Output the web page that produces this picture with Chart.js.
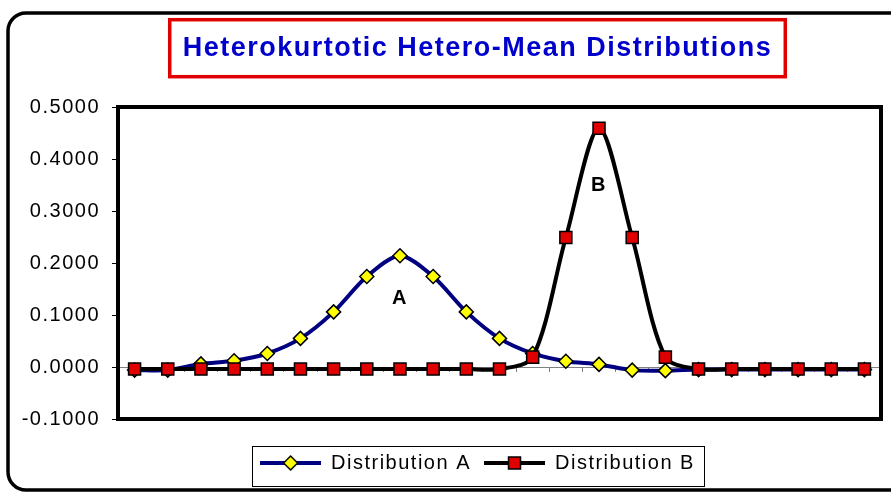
<!DOCTYPE html>
<html>
<head>
<meta charset="utf-8">
<script src="https://cdn.jsdelivr.net/npm/chart.js@4.4.1/dist/chart.umd.min.js"></script>
<style>
    html, body { margin: 0; padding: 0; background: #fff; overflow: hidden; }
    canvas { display: block; }
</style>
</head>
<body>
<canvas id="grafico" width="891" height="495"></canvas>
<script>
// Datos
const categorias = ["1", "2", "3", "4", "5", "6", "7", "8", "9", "10", "11", "12",
    "13", "14", "15", "16", "17", "18", "19", "20", "21", "22", "23"];
const distribucionA = [-0.006, -0.006, 0.006, 0.012, 0.026, 0.055, 0.106, 0.174, 0.214, 0.174, 0.106, 0.055,
    0.026, 0.011, 0.005, -0.006, -0.007, -0.005, -0.005, -0.005, -0.005, -0.005, -0.005];
const distribucionB = [-0.004, -0.004, -0.004, -0.004, -0.004, -0.004, -0.004, -0.004, -0.004, -0.004, -0.004, -0.004,
    0.019, 0.249, 0.459, 0.249, 0.019, -0.004, -0.004, -0.004, -0.004, -0.004, -0.004];
const nombresSeries = ["Distribution A", "Distribution B"];
const ticksY = [-0.1, 0.5, 0.1]; // min, max, paso
const etiquetas = ["A", "B"];
const etiquetaCategoria = [8, 14];
const etiquetaValor = [0.132, 0.35];
const titulo = "Heterokurtotic Hetero-Mean Distributions";

const FUENTE = "'Liberation Sans', Arial, sans-serif";
const ESPACIADO = "1.5px";

// Icono de leyenda: línea con marcador en medio
function crearIcono(colorLinea, forma, relleno, tam) {
    const c = document.createElement("canvas");
    c.width = 61;
    c.height = 20;
    const ctx = c.getContext("2d");
    ctx.strokeStyle = colorLinea;
    ctx.lineWidth = 4;
    ctx.beginPath();
    ctx.moveTo(0, 10);
    ctx.lineTo(61, 10);
    ctx.stroke();
    ctx.fillStyle = relleno;
    ctx.strokeStyle = "#000";
    ctx.lineWidth = 1.5;
    ctx.beginPath();
    if (forma === "rombo") {
        ctx.moveTo(30.5 - tam, 10);
        ctx.lineTo(30.5, 10 - tam);
        ctx.lineTo(30.5 + tam, 10);
        ctx.lineTo(30.5, 10 + tam);
        ctx.closePath();
    } else {
        ctx.rect(30.5 - tam, 10 - tam, tam * 2, tam * 2);
    }
    ctx.fill();
    ctx.stroke();
    return c;
}
const iconos = [
    crearIcono("#000080", "rombo", "#ffff00", 7),
    crearIcono("#000000", "cuadro", "#e00000", 6),
];

// Espaciado de letras para todo el texto
const espaciado = {
    id: "espaciado",
    beforeLayout(chart) { chart.ctx.letterSpacing = ESPACIADO; },
    // las etiquetas del eje Y salen del hueco de la izquierda: no recortarlas
    afterLayout(chart) { chart.scales.y.left = 0; },
    beforeDraw(chart) { chart.ctx.letterSpacing = ESPACIADO; },
};

// Fondo y marco redondeado exterior
const marco = {
    id: "marco",
    beforeDraw(chart) {
        const ctx = chart.ctx;
        ctx.save();
        ctx.fillStyle = "#fff";
        ctx.fillRect(0, 0, chart.width, chart.height);
        ctx.strokeStyle = "#000";
        ctx.lineWidth = 3.5;
        ctx.beginPath();
        ctx.roundRect(8, 13, chart.width + 30, 477, 18);
        ctx.stroke();
        ctx.restore();
    },
};

// Borde del área de trazado
const bordeArea = {
    id: "bordeArea",
    beforeDatasetsDraw(chart) {
        const a = chart.chartArea;
        const ctx = chart.ctx;
        ctx.save();
        ctx.strokeStyle = "#000";
        ctx.lineWidth = 4;
        ctx.strokeRect(a.left, a.top, a.right - a.left, a.bottom - a.top);
        ctx.restore();
    },
};

// Letras A y B junto a las curvas
const rotulos = {
    id: "rotulos",
    afterDatasetsDraw(chart) {
        const ctx = chart.ctx;
        ctx.save();
        ctx.font = "bold 20px " + FUENTE;
        ctx.fillStyle = "#000";
        ctx.textAlign = "center";
        ctx.textBaseline = "middle";
        etiquetas.forEach((t, i) => {
            const x = chart.scales.x.getPixelForValue(etiquetaCategoria[i]);
            const y = chart.scales.y.getPixelForValue(etiquetaValor[i]);
            ctx.fillText(t, x, y);
        });
        ctx.restore();
    },
};

// Cajas del título y de la leyenda
const cajas = {
    id: "cajas",
    afterDraw(chart) {
        const ctx = chart.ctx;
        const t = chart.titleBlock;
        ctx.save();
        ctx.font = "bold 27px " + FUENTE;
        ctx.letterSpacing = ESPACIADO;
        const w = ctx.measureText(titulo).width;
        const cx = (t.left + t.right) / 2;
        const cy = t.top + 32 + 27 * 1.2 / 2;
        ctx.strokeStyle = "#e00000";
        ctx.lineWidth = 3.5;
        ctx.strokeRect(cx - w / 2 - 13, cy - 28.5, w + 26, 57);

        const hb = chart.legend.legendHitBoxes;
        if (hb && hb.length) {
            const ult = hb[hb.length - 1];
            const izq = hb[0].left - 8;
            const der = ult.left + ult.width + 9;
            ctx.strokeStyle = "#000";
            ctx.lineWidth = 1;
            ctx.strokeRect(Math.round(izq) + 0.5, Math.round(hb[0].top - 7) + 0.5,
                Math.round(der - izq), 40);
        }
        ctx.restore();
    },
};

function inicializarGrafico() {
    const ctx = document.getElementById("grafico").getContext("2d");
    new Chart(ctx, {
        type: "line",
        data: {
            labels: categorias,
            datasets: [{
                label: nombresSeries[0],
                data: distribucionA,
                borderColor: "#000080",
                borderWidth: 4,
                tension: 0.3,
                fill: false,
                pointStyle: "rectRot",
                pointRadius: 7,
                pointHoverRadius: 7,
                pointBackgroundColor: "#ffff00",
                pointBorderColor: "#000",
                pointBorderWidth: 1.5,
                order: 1,
            }, {
                label: nombresSeries[1],
                data: distribucionB,
                borderColor: "#000000",
                borderWidth: 4,
                tension: 0.3,
                fill: false,
                pointStyle: "rect",
                pointRadius: 8.5,
                pointHoverRadius: 8.5,
                pointBackgroundColor: "#e00000",
                pointBorderColor: "#000",
                pointBorderWidth: 1.5,
                order: 0,
            }],
        },
        options: {
            responsive: false,
            animation: false,
            events: [],
            layout: {
                padding: { left: 72, right: 8, top: 0, bottom: 12 },
            },
            plugins: {
                title: {
                    display: true,
                    text: titulo,
                    color: "#0000cc",
                    font: { family: FUENTE, size: 27, weight: "bold" },
                    padding: { top: 32, bottom: 42.6 },
                },
                legend: {
                    display: true,
                    position: "bottom",
                    title: {
                        display: true,
                        text: " ",
                        font: { size: 1 },
                        padding: { top: 19.8, bottom: 0 },
                    },
                    labels: {
                        usePointStyle: true,
                        pointStyleWidth: 61,
                        padding: 13,
                        color: "#000",
                        font: { family: FUENTE, size: 20 },
                        sort: (a, b) => a.datasetIndex - b.datasetIndex,
                        generateLabels(chart) {
                            const items = Chart.defaults.plugins.legend.labels.generateLabels(chart);
                            items.forEach((it) => { it.pointStyle = iconos[it.datasetIndex]; });
                            return items;
                        },
                    },
                },
                tooltip: { enabled: false },
            },
            scales: {
                x: {
                    type: "category",
                    offset: true,
                    position: { y: 0 },
                    ticks: { display: false },
                    grid: {
                        display: true,
                        offset: true,
                        drawOnChartArea: false,
                        drawTicks: true,
                        tickLength: 4,
                        color: "#808080",
                    },
                    border: { display: true, color: "#808080", width: 1 },
                },
                y: {
                    min: ticksY[0],
                    max: ticksY[1],
                    ticks: {
                        stepSize: ticksY[2],
                        padding: 12,
                        color: "#000",
                        font: { family: FUENTE, size: 20 },
                        // evitar "-0.0000" por redondeo
                        callback: (v) => (Math.abs(v) < 1e-9 ? 0 : Number(v)).toFixed(4),
                    },
                    grid: {
                        drawOnChartArea: false,
                        drawTicks: true,
                        tickLength: 6,
                        color: "#000",
                    },
                    border: { display: false },
                    afterFit(scale) { scale.width = 46; },
                },
            },
        },
        plugins: [espaciado, marco, bordeArea, rotulos, cajas],
    });
}

window.onload = inicializarGrafico;
</script>
</body>
</html>
